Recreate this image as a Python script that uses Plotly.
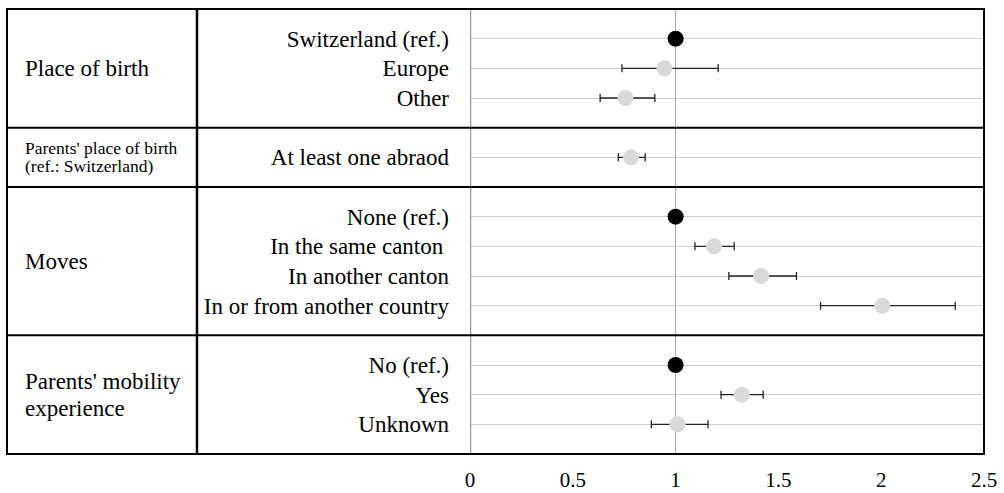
import plotly.graph_objects as go

# ---- data ----
group_names = ["Place of birth", "Parents' place of birth|(ref.: Switzerland)", "Moves",
               "Parents' mobility|experience"]
group_cats = [
    ["Switzerland (ref.)", "Europe", "Other"],
    ["At least one abraod"],
    ["None (ref.)", "In the same canton\u00a0", "In another canton", "In or from another country"],
    ["No (ref.)", "Yes", "Unknown"],
]
estimates = [
    [1.0, 0.946, 0.756],
    [0.783],
    [1.0, 1.187, 1.416, 2.005],
    [1.0, 1.322, 1.010],
]
ci_low = [
    [None, 0.739, 0.633],
    [0.721],
    [None, 1.094, 1.259, 1.705],
    [None, 1.221, 0.882],
]
ci_high = [
    [None, 1.207, 0.899],
    [0.852],
    [None, 1.285, 1.588, 2.360],
    [None, 1.426, 1.158],
]
x_ticks = [0, 0.5, 1, 1.5, 2, 2.5]
x_ticktext = ["0", "0.5", "1", "1.5", "2", "2.5"]

# ---- layout geometry (page body margin removed by post_script) ----
W, H = 1004, 493
ML, MT = 470, 9
MR = W - 984
MB = H - 454
PW = W - ML - MR


def px_x(p):
    return (p - ML) / PW


FONT = "Liberation Serif, Times New Roman, serif"

# compute row positions from group structure
row_pos, row_text = [], []
ref_x, ref_y = [], []
est_x, est_y, err_plus, err_minus = [], [], [], []
group_bounds = []
start = 0
for cats, ests, lo, hi in zip(group_cats, estimates, ci_low, ci_high):
    for i, (c, e, l, h) in enumerate(zip(cats, ests, lo, hi)):
        y = start + 1 + i
        row_pos.append(y)
        row_text.append(c)
        if l is None:
            ref_x.append(e)
            ref_y.append(y)
        else:
            est_x.append(e)
            est_y.append(y)
            err_plus.append(h - e)
            err_minus.append(e - l)
    end = start + len(cats) + 1
    group_bounds.append((start, end))
    start = end
total = start

fig = go.Figure()
fig.add_trace(go.Scatter(
    x=est_x, y=est_y, mode="markers",
    marker=dict(color="#d9d9d9", size=16),
    error_x=dict(type="data", symmetric=False, array=err_plus, arrayminus=err_minus,
                 color="#222222", thickness=1.3, width=4),
    showlegend=False, hoverinfo="x+y",
))
fig.add_trace(go.Scatter(
    x=ref_x, y=ref_y, mode="markers",
    marker=dict(color="black", size=16),
    showlegend=False,
))

shapes = []
# vertical reference line at 1
shapes.append(dict(type="line", xref="x", yref="paper", x0=1, x1=1, y0=0, y1=1,
                   line=dict(color="#a6a6a6", width=1), layer="between"))
# left boundary of plot
shapes.append(dict(type="line", xref="x", yref="paper", x0=0, x1=0, y0=0, y1=1,
                   line=dict(color="#9a9a9a", width=2.5), layer="above"))
# column separator
shapes.append(dict(type="line", xref="paper", yref="paper", x0=px_x(197), x1=px_x(197), y0=0, y1=1,
                   line=dict(color="black", width=2.5), layer="above"))
# group separators
for (s, e) in group_bounds[:-1]:
    shapes.append(dict(type="line", xref="paper", yref="y", x0=px_x(7), x1=1, y0=e, y1=e,
                       line=dict(color="black", width=2), layer="above"))
# outer box
shapes.append(dict(type="rect", xref="paper", yref="paper", x0=px_x(7), x1=1, y0=0, y1=1,
                   line=dict(color="black", width=2), layer="above"))

annotations = []
for name, (s, e) in zip(group_names, group_bounds):
    center = (s + e) / 2
    parts = name.split("|")
    small = name.startswith("Parents' place")
    size = 17.5 if small else 23
    gap = 18 if small else 27
    n = len(parts)
    for k, p in enumerate(parts):
        shift = ((n - 1) / 2 - k) * gap
        annotations.append(dict(text=p, xref="paper", yref="y", x=px_x(23), y=center,
                                xanchor="left", yanchor="middle", showarrow=False,
                                yshift=shift, font=dict(family=FONT, size=size, color="black")))

fig.update_layout(
    width=W, height=H,
    margin=dict(l=ML, r=MR, t=MT, b=MB, pad=0),
    paper_bgcolor="white", plot_bgcolor="white",
    shapes=shapes, annotations=annotations,
    xaxis=dict(range=[0, 2.5], tickvals=x_ticks, ticktext=x_ticktext, showgrid=False,
               zeroline=False, showline=False, ticks="", ticklabelstandoff=11, automargin=False,
               tickfont=dict(family=FONT, size=21, color="black")),
    yaxis=dict(range=[total, 0], tickvals=row_pos, ticktext=row_text, showgrid=True,
               gridcolor="#cfcfcf", gridwidth=1, zeroline=False, showline=False, ticks="",
               ticklabelstandoff=20, automargin=False,
               tickfont=dict(family=FONT, size=23, color="black")),
)

fig.write_html("out.html", config={"displayModeBar": False},
               post_script="document.body.style.margin='0px';document.body.style.overflow='hidden';")
